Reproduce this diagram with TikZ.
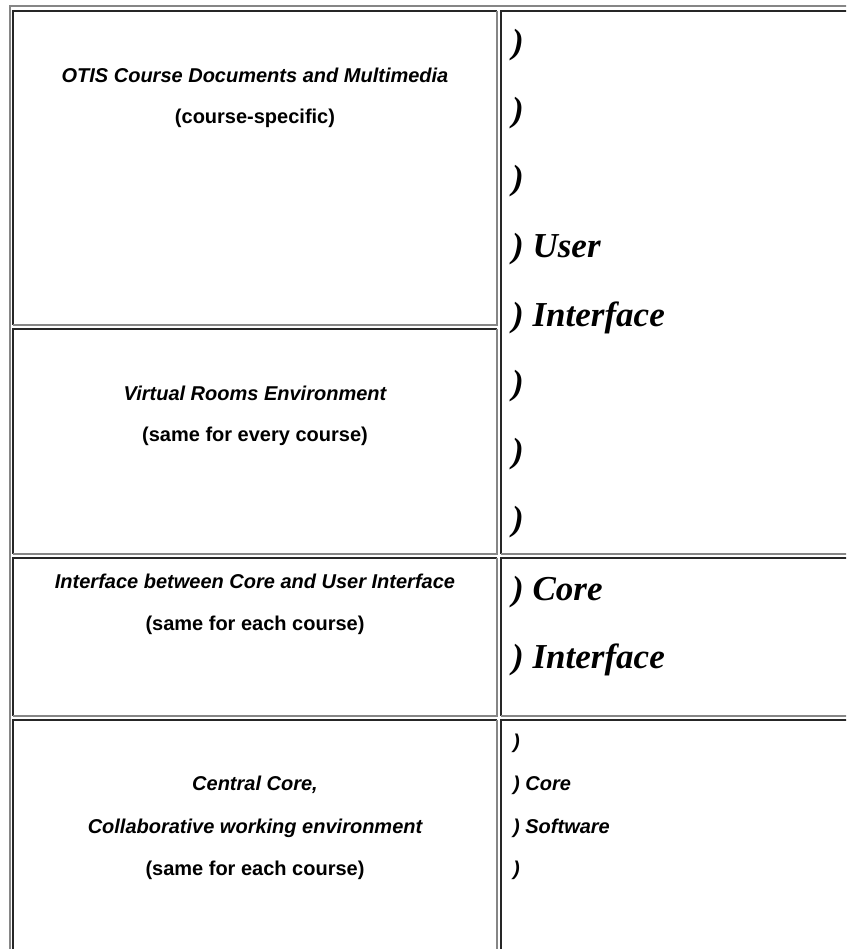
\documentclass[tikz,border=0pt]{standalone}
\usepackage{fontspec}
\setmainfont{Liberation Serif}
\newfontfamily\arialfont{Liberation Sans}
\usepackage{tikz}

\definecolor{edgedark}{HTML}{262626}
\definecolor{edgelight}{HTML}{868686}

\begin{document}
\begin{tikzpicture}
	[
		x=1pt, y=-1pt,
		head/.style = {anchor=base, inner sep=0pt, font=\arialfont\bfseries\itshape\fontsize{20}{24}\selectfont},
		note/.style = {anchor=base, inner sep=0pt, font=\arialfont\bfseries\fontsize{20}{24}\selectfont},
		big/.style = {anchor=base west, inner sep=0pt, font=\bfseries\itshape\fontsize{35}{40}\selectfont},
		small/.style = {anchor=base west, inner sep=0pt, font=\arialfont\bfseries\itshape\fontsize{20}{24}\selectfont},
		frame/.style = {draw=edgelight, line width=2pt},
		inset/.style = {draw=edgedark, line width=2pt},
		outset/.style = {draw=edgelight, line width=2pt},
	]

	\useasboundingbox (0,0) rectangle (846,949);
	\clip (0,0) rectangle (846,949);

	% table frame
	\draw[frame] (9.5,960) -- (9.5,6.5) -- (860,6.5);

	% left column cells
	\foreach \top/\bot in {11/325, 329/554, 558/716, 720/960}
	{
		\draw[inset] (13,\bot) -- (13,\top) -- (496.5,\top);
		\draw[outset] (13,\bot) -- (496.5,\bot) -- (496.5,\top);
	}

	% right column cells
	\foreach \top/\bot in {11/554, 558/716, 720/960}
	{
		\draw[inset] (501,\bot) -- (501,\top) -- (860,\top);
		\draw[outset] (501,\bot) -- (860,\bot);
	}

	% layers
	\node[head] (otis) 		at ( 255,  83 ) {OTIS Course Documents and Multimedia};
	\node[note] (otisnote) 	at ( 255, 124 ) {(course-specific)};
	\node[head] (rooms) 	at ( 255, 400 ) {Virtual Rooms Environment};
	\node[note] (roomsnote) at ( 255, 441 ) {(same for every course)};
	\node[head] (bridge) 	at ( 255, 588 ) {Interface between Core and User Interface};
	\node[note] (bridgenote) at ( 255, 630 ) {(same for each course)};
	\node[head] (core) 		at ( 255, 790 ) {Central Core,};
	\node[head] (collab) 	at ( 255, 833 ) {Collaborative working environment};
	\node[note] (corenote) 	at ( 255, 875 ) {(same for each course)};

	% brackets
	\foreach \i/\y/\txt in {1/54/{)}, 2/122/{)}, 3/190/{)}, 4/258/{) User}, 5/326/{) Interface}, 6/394/{)}, 7/462/{)}, 8/530/{)}}
	\node[big] (ui\i) at ( 512, \y ) {\txt};

	\foreach \i/\y/\txt in {1/600/{) Core}, 2/668/{) Interface}}
	\node[big] (ci\i) at ( 512, \y ) {\txt};

	\foreach \i/\y/\txt in {1/748/{)}, 2/790/{) Core}, 3/833/{) Software}, 4/875/{)}}
	\node[small] (cs\i) at ( 513, \y ) {\txt};

\end{tikzpicture}
\end{document}
